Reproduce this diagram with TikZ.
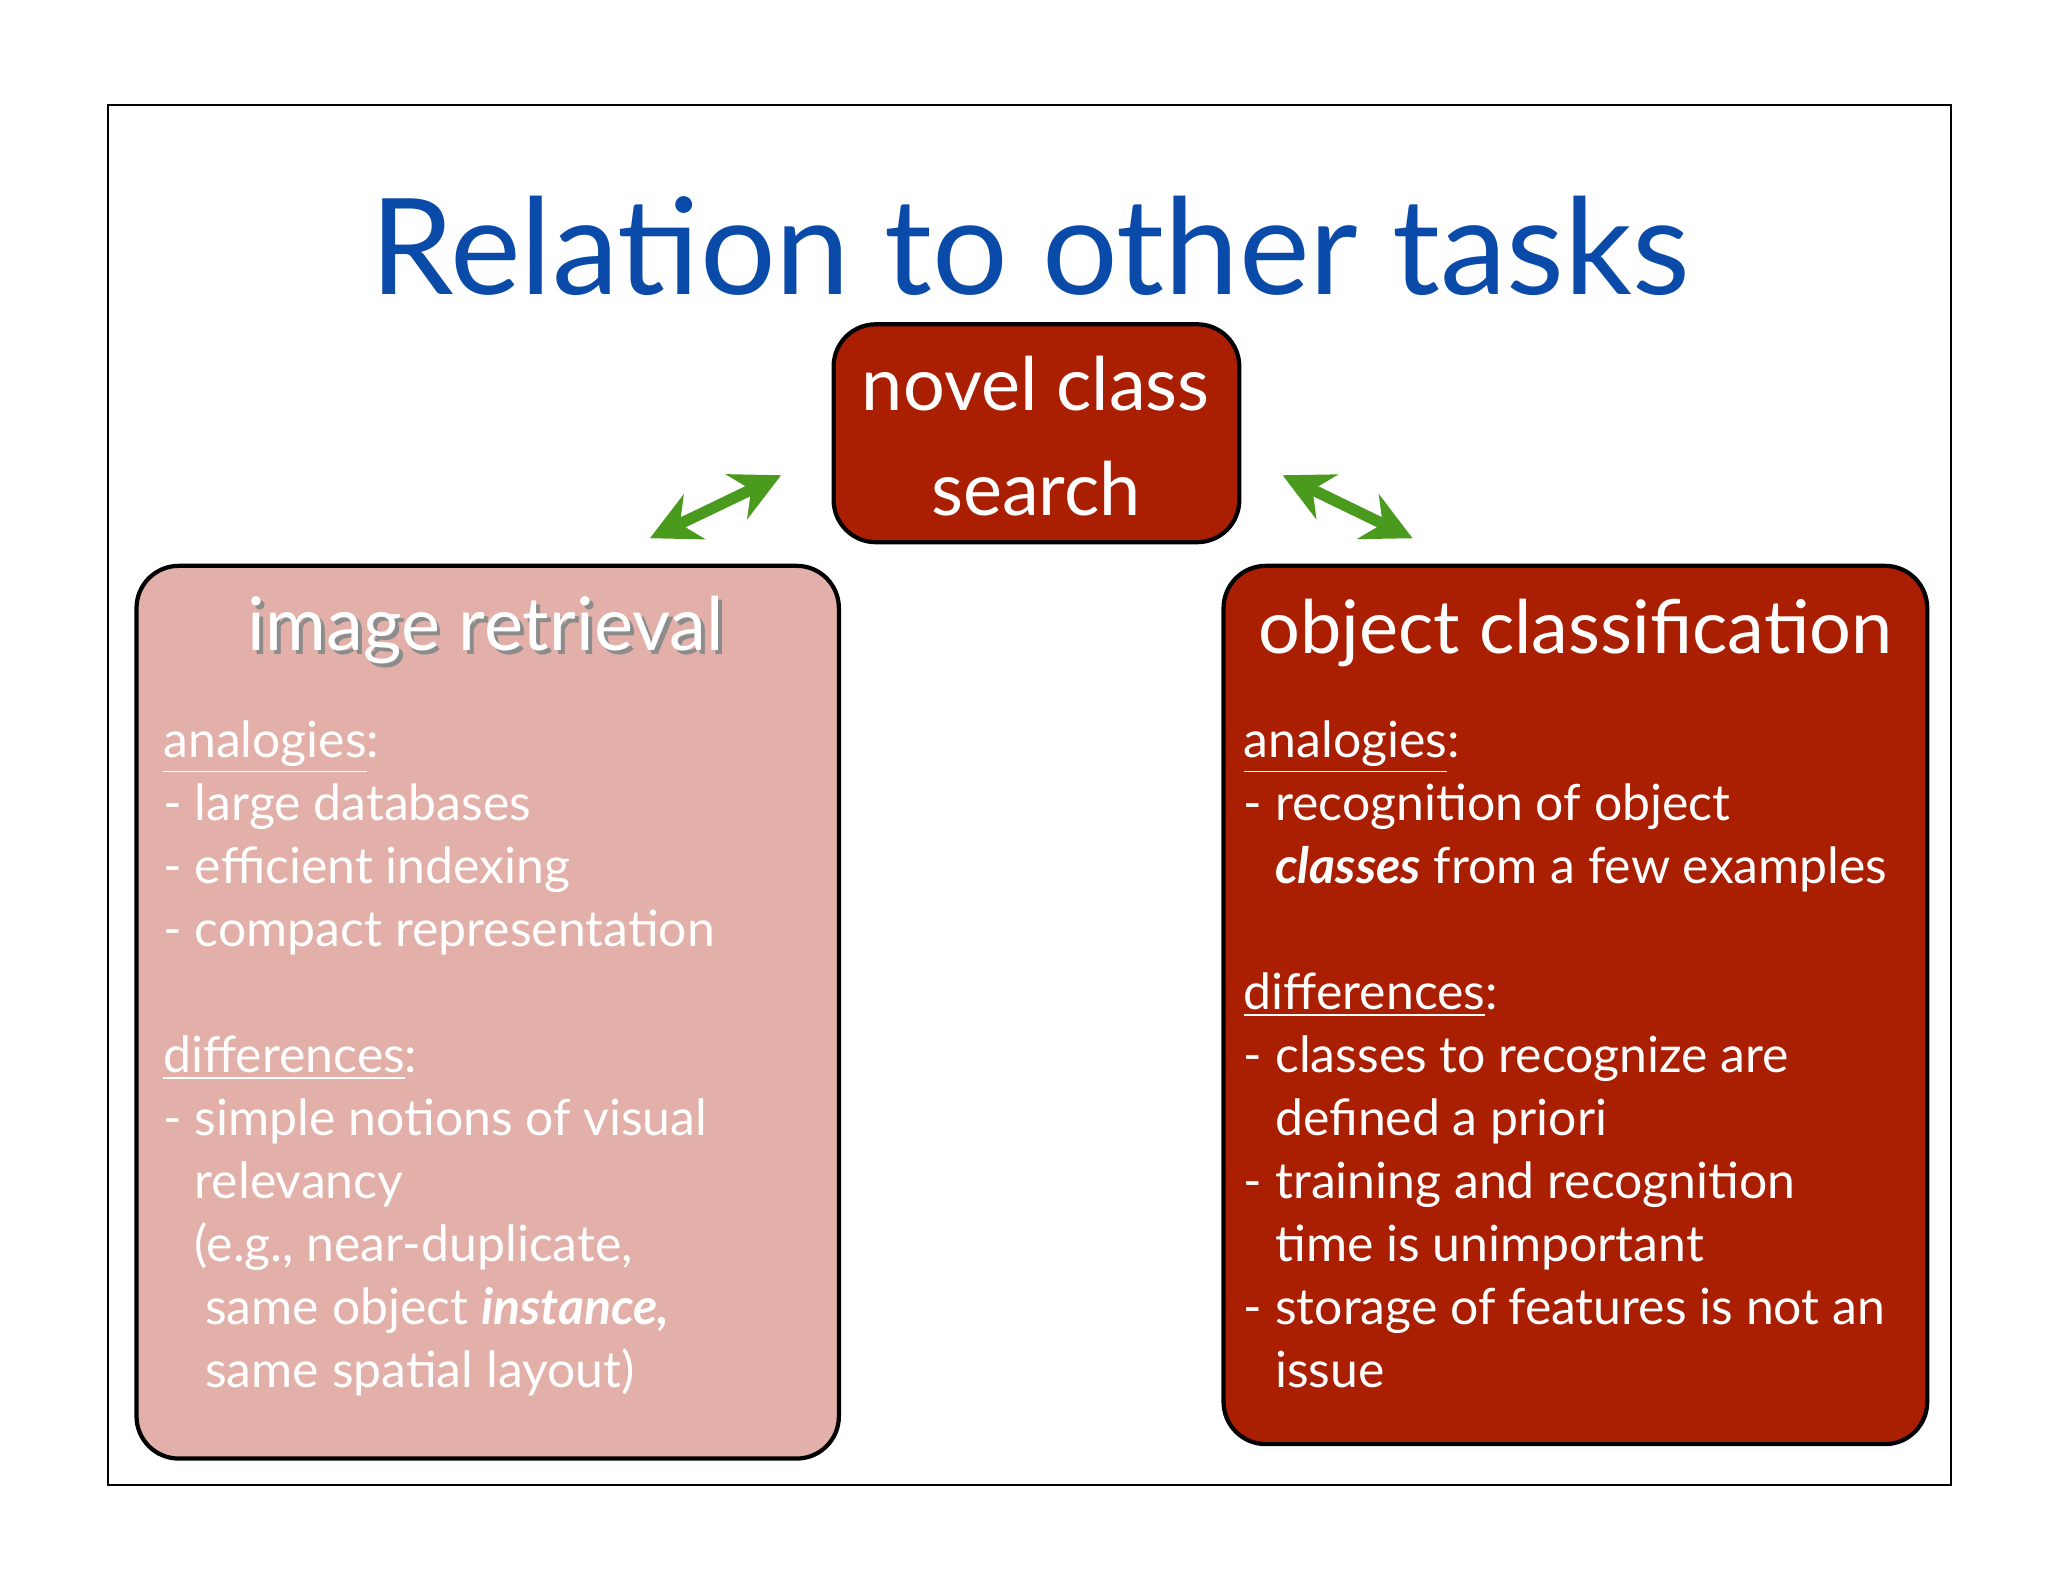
\documentclass[tikz,border=0pt]{standalone}
\usepackage{fontspec}
\setmainfont{Lato}
\usetikzlibrary{arrows.meta}
\definecolor{taskred}{HTML}{AA1E02}
\definecolor{taskpink}{HTML}{E2B0A8}
\definecolor{titleblue}{HTML}{0A4AA8}
\definecolor{arrowgreen}{HTML}{4A9A1E}
\begin{document}
\begin{tikzpicture}[x=0.01313cm,y=-0.01313cm,
    box/.style={draw=black, line width=1.2pt, rounded corners=12pt},
    boxtitle/.style={text=white, font=\fontsize{21}{25}\selectfont},
    line/.style={anchor=base west, inner sep=0pt, font=\fontsize{14.2}{17}\selectfont},
    link/.style={{Stealth[length=14pt,width=14pt]}-{Stealth[length=14pt,width=14pt]}, line width=3.2pt, arrowgreen}
  ]
  \useasboundingbox (0,0) rectangle (1560,1205);
  \fill[white] (0,0) rectangle (1560,1205);
  % frame and title
  \draw[line width=0.6pt] (82,80) rectangle (1486,1131);
  \node[text=titleblue, font=\fontsize{38}{44}\selectfont] (title) at (785,187) {Relation to other tasks};

  % novel class search
  \draw[box, fill=taskred] (635,247) rectangle (944,413);
  \node[boxtitle, align=center, font=\fontsize{21}{30}\selectfont] (novel) at (789,332) {novel class\\search};

  % image retrieval
  \draw[box, fill=taskpink] (104,431) rectangle (639,1111);
  \node[text=black!45, font=\fontsize{21}{25}\selectfont] (retrshadow) at (373,483) {image retrieval};
  \node[boxtitle] (retr) at (370,480) {image retrieval};
  \foreach \txt [count=\i] in {{\underline{analogies}:},{- large databases},{- efficient indexing},{- compact representation},{},
      {\underline{differences}:},{- simple notions of visual},{\phantom{- }relevancy},{\phantom{- }(e.g., near-duplicate,},
      {\phantom{- }\hspace{3pt}same object \textbf{\textit{instance,}}},{\phantom{- }\hspace{3pt}same spatial layout)}}
    \node[line, text=white] (retr\i) at (124,{577+48*(\i-1)}) {\txt};

  % object classification
  \draw[box, fill=taskred] (932,431) rectangle (1468,1100);
  \node[boxtitle] (cls) at (1200,482) {object classification};
  \foreach \txt [count=\i] in {{\underline{analogies}:},{- recognition of object},{\phantom{- }\textbf{\textit{classes}} from a few examples},{},
      {\underline{differences}:},{- classes to recognize are},{\phantom{- }defined a priori},{- training and recognition},
      {\phantom{- }time is unimportant},{- storage of features is not an},{\phantom{- }issue}}
    \node[line, text=white] (cls\i) at (947,{577+48*(\i-1)}) {\txt};

  % links
  \coordinate (la) at (495,410);
  \coordinate (lb) at (595,362);
  \coordinate (ra) at (977,362);
  \coordinate (rb) at (1076,410);
  \draw[link] (la) -- (lb);
  \draw[link] (ra) -- (rb);
\end{tikzpicture}
\end{document}
